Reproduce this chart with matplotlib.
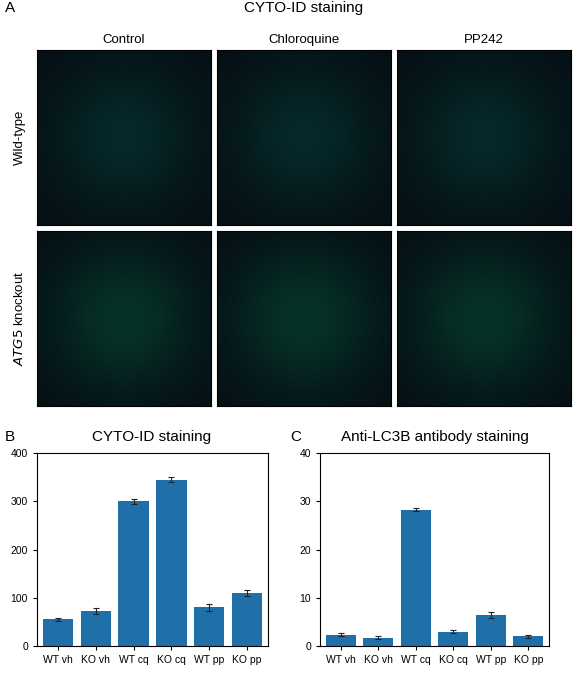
import matplotlib
matplotlib.use("Agg")
import matplotlib.pyplot as plt
import numpy as np

plt.rcParams['font.family'] = ['Liberation Sans', 'DejaVu Sans']

conditions = ["Control", "Chloroquine", "PP242"]
rows = ["Wild-type", "ATG5 knockout"]
cats = ["WT vh", "KO vh", "WT cq", "KO cq", "WT pp", "KO pp"]
cyto_vals = [55, 73, 300, 345, 80, 110]
cyto_err = [3, 6, 5, 6, 7, 7]
lc3_vals = [2.3, 1.7, 28.2, 3.0, 6.4, 2.0]
lc3_err = [0.3, 0.3, 0.3, 0.3, 0.6, 0.3]

W, H = 578, 686
fig = plt.figure(figsize=(W/100, H/100), dpi=100)

def ax_px(x0, y0, x1, y1):
    return fig.add_axes([x0/W, 1-y1/H, (x1-x0)/W, (y1-y0)/H])

fig.text(5/W, 1-8/H, "A", fontsize=11, va="center")
fig.text(304/W, 1-8/H, "CYTO-ID staining", fontsize=11, ha="center", va="center")

xs = [(37, 211), (217, 391), (397, 571)]
ys = [(50, 225), (231, 406)]
yy, xx = np.mgrid[-1:1:100j, -1:1:100j]
glow = np.exp(-(xx**2 + yy**2) * 1.5)
for ci, (x0, x1) in enumerate(xs):
    fig.text((x0+x1)/2/W, 1-40/H, conditions[ci], fontsize=9.5, ha="center", va="center")
    for ri, (y0, y1) in enumerate(ys):
        a = ax_px(x0, y0, x1, y1)
        g = 0.06 + 0.10 * glow * (1.4 if ri == 1 else 1.0)
        img = np.dstack([0.02 + 0*glow, g, 0.08 + 0.08 * glow])
        a.imshow(img, aspect="auto")
        a.set_xticks([]); a.set_yticks([])
for ri, (y0, y1) in enumerate(ys):
    if ri == 0:
        fig.text(20/W, 1-(y0+y1)/2/H, rows[0], fontsize=9.5, rotation=90, ha="center", va="center")
    else:
        fig.text(20/W, 1-(y0+y1)/2/H, r"$\it{ATG5}$ knockout", fontsize=9.5, rotation=90, ha="center", va="center")

color = "#1f6fa8"
def bars(ax, vals, err, ylim, ticks):
    ax.bar(range(len(cats)), vals, width=0.8, color=color, yerr=err, capsize=2.5,
           error_kw=dict(elinewidth=0.8, capthick=0.8, ecolor="#222222"))
    ax.set_xlim(-0.55, len(cats)-0.45)
    ax.set_ylim(*ylim)
    ax.set_yticks(ticks)
    ax.set_xticks(range(len(cats)))
    ax.set_xticklabels(cats, fontsize=7.5)
    ax.tick_params(axis="y", labelsize=7.5, length=3)
    ax.tick_params(axis="x", length=3)

axB = ax_px(37, 453, 268, 646)
bars(axB, cyto_vals, cyto_err, (0, 400), [0, 100, 200, 300, 400])
axC = ax_px(320, 453, 549, 646)
bars(axC, lc3_vals, lc3_err, (0, 40), [0, 10, 20, 30, 40])

fig.text(5/W, 1-437/H, "B", fontsize=11, va="center")
fig.text(152/W, 1-437/H, "CYTO-ID staining", fontsize=11, ha="center", va="center")
fig.text(290/W, 1-437/H, "C", fontsize=11, va="center")
fig.text(435/W, 1-437/H, "Anti-LC3B antibody staining", fontsize=11, ha="center", va="center")

fig.savefig("out.png", dpi=100)
